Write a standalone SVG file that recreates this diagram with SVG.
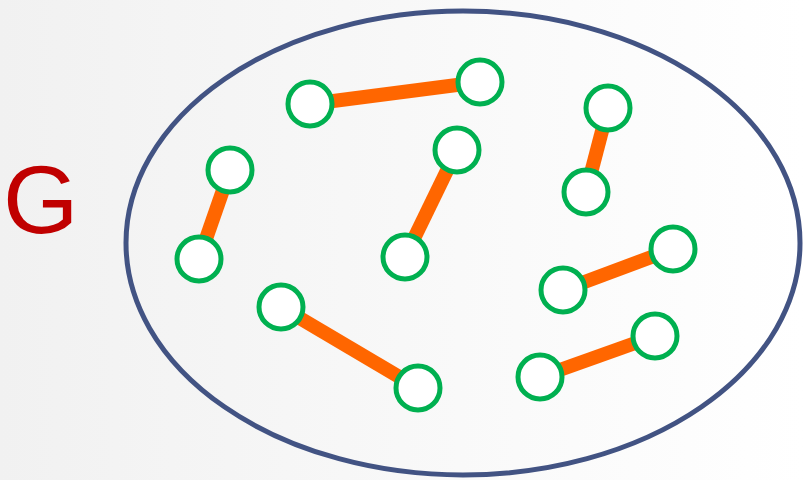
<svg xmlns="http://www.w3.org/2000/svg" width="804" height="480" viewBox="0 0 804 480">
  <defs>
    <linearGradient id="bg" x1="0" y1="0" x2="1" y2="0">
      <stop offset="0" stop-color="#f1f1f1"/>
      <stop offset="1" stop-color="#ffffff"/>
    </linearGradient>
    <style>
      .edge { stroke: #ff6600; stroke-width: 14; fill: none; }
      .node { fill: #ffffff; stroke: #00b050; stroke-width: 5; }
      .set { fill: none; stroke: #425383; stroke-width: 5; }
      .label { font-family: "Liberation Sans", Arial, sans-serif; font-size: 97px; fill: #c00000; }
    </style>
  </defs>
  <rect width="804" height="480" fill="url(#bg)"/>
  <text class="label" x="3" y="233">G</text>
  <ellipse class="set" cx="463" cy="243" rx="337" ry="232"/>
  <g id="connectors">
    <line class="edge" x1="310" y1="104" x2="480" y2="82"/>
    <line class="edge" x1="230" y1="170" x2="199" y2="259"/>
    <line class="edge" x1="457" y1="150" x2="405" y2="257"/>
    <line class="edge" x1="608" y1="108" x2="586" y2="192"/>
    <line class="edge" x1="281" y1="307" x2="418" y2="388"/>
    <line class="edge" x1="673" y1="249" x2="563" y2="290"/>
    <line class="edge" x1="655" y1="336" x2="540" y2="377"/>
  </g>
  <g id="n1"><circle class="node" cx="310" cy="104" r="22"/></g>
  <g id="n2"><circle class="node" cx="480" cy="82" r="22"/></g>
  <g id="n3"><circle class="node" cx="230" cy="170" r="22"/></g>
  <g id="n4"><circle class="node" cx="199" cy="259" r="22"/></g>
  <g id="n5"><circle class="node" cx="457" cy="150" r="22"/></g>
  <g id="n6"><circle class="node" cx="405" cy="257" r="22"/></g>
  <g id="n7"><circle class="node" cx="608" cy="108" r="22"/></g>
  <g id="n8"><circle class="node" cx="586" cy="192" r="22"/></g>
  <g id="n9"><circle class="node" cx="281" cy="307" r="22"/></g>
  <g id="n10"><circle class="node" cx="418" cy="388" r="22"/></g>
  <g id="n11"><circle class="node" cx="673" cy="249" r="22"/></g>
  <g id="n12"><circle class="node" cx="563" cy="290" r="22"/></g>
  <g id="n13"><circle class="node" cx="655" cy="336" r="22"/></g>
  <g id="n14"><circle class="node" cx="540" cy="377" r="22"/></g>
</svg>
